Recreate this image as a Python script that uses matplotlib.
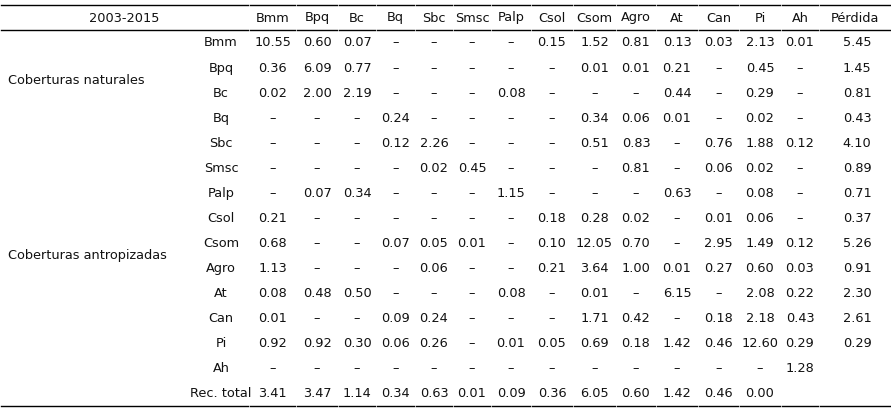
import matplotlib
matplotlib.use("Agg")
import matplotlib.pyplot as plt

title = "2003-2015"
columns = ["Bmm","Bpq","Bc","Bq","Sbc","Smsc","Palp","Csol","Csom","Agro","At","Can","Pi","Ah","Pérdida"]
rows = ["Bmm","Bpq","Bc","Bq","Sbc","Smsc","Palp","Csol","Csom","Agro","At","Can","Pi","Ah","Rec. total"]
groups = ["Coberturas naturales", "Coberturas antropizadas"]
D = "–"
values = [
 ["10.55","0.60","0.07",D,D,D,D,"0.15","1.52","0.81","0.13","0.03","2.13","0.01","5.45"],
 ["0.36","6.09","0.77",D,D,D,D,D,"0.01","0.01","0.21",D,"0.45",D,"1.45"],
 ["0.02","2.00","2.19",D,D,D,"0.08",D,D,D,"0.44",D,"0.29",D,"0.81"],
 [D,D,D,"0.24",D,D,D,D,"0.34","0.06","0.01",D,"0.02",D,"0.43"],
 [D,D,D,"0.12","2.26",D,D,D,"0.51","0.83",D,"0.76","1.88","0.12","4.10"],
 [D,D,D,D,"0.02","0.45",D,D,D,"0.81",D,"0.06","0.02",D,"0.89"],
 [D,"0.07","0.34",D,D,D,"1.15",D,D,D,"0.63",D,"0.08",D,"0.71"],
 ["0.21",D,D,D,D,D,D,"0.18","0.28","0.02",D,"0.01","0.06",D,"0.37"],
 ["0.68",D,D,"0.07","0.05","0.01",D,"0.10","12.05","0.70",D,"2.95","1.49","0.12","5.26"],
 ["1.13",D,D,D,"0.06",D,D,"0.21","3.64","1.00","0.01","0.27","0.60","0.03","0.91"],
 ["0.08","0.48","0.50",D,D,D,"0.08",D,"0.01",D,"6.15",D,"2.08","0.22","2.30"],
 ["0.01",D,D,"0.09","0.24",D,D,D,"1.71","0.42",D,"0.18","2.18","0.43","2.61"],
 ["0.92","0.92","0.30","0.06","0.26",D,"0.01","0.05","0.69","0.18","1.42","0.46","12.60","0.29","0.29"],
 [D,D,D,D,D,D,D,D,D,D,D,D,D,"1.28",""],
 ["3.41","3.47","1.14","0.34","0.63","0.01","0.09","0.36","6.05","0.60","1.42","0.46","0.00","",""],
]

W, H = 891, 411
fig = plt.figure(figsize=(W/100, H/100), dpi=100)
ax = fig.add_axes([0, 0, 1, 1])
ax.set_xlim(0, W); ax.set_ylim(H, 0); ax.axis("off")

edges = [0,249,296,338,376,415,453,491,531,573,616,656,698,739,781,819,891]
centers = [(edges[i]+edges[i+1])/2 for i in range(len(edges)-1)]
fs = 9.3
col = "#111111"

for i in range(len(edges)-1):
    a, b = edges[i]+1, edges[i+1]-1
    for y in (5, 30, 406):
        ax.plot([a, b], [y, y], color="black", lw=1.0)

ax.text(centers[0], 18, title, ha="center", va="center", fontsize=fs, color=col)
for j, c in enumerate(columns):
    ax.text(centers[j+1], 18, c, ha="center", va="center", fontsize=fs, color=col)

y0, dy = 43, 25.05
for i, r in enumerate(rows):
    y = y0 + i*dy
    ax.text(221, y, r, ha="center", va="center", fontsize=fs, color=col)
    for j, v in enumerate(values[i]):
        if v:
            ax.text(centers[j+1]+(2 if j == 14 else 0), y, v, ha="center", va="center", fontsize=fs, color=col)

ax.text(8, y0 + 1.5*dy, groups[0], ha="left", va="center", fontsize=fs, color=col)
ax.text(8, y0 + 8.5*dy, groups[1], ha="left", va="center", fontsize=fs, color=col)

fig.savefig("out.png", dpi=100, facecolor="white")
